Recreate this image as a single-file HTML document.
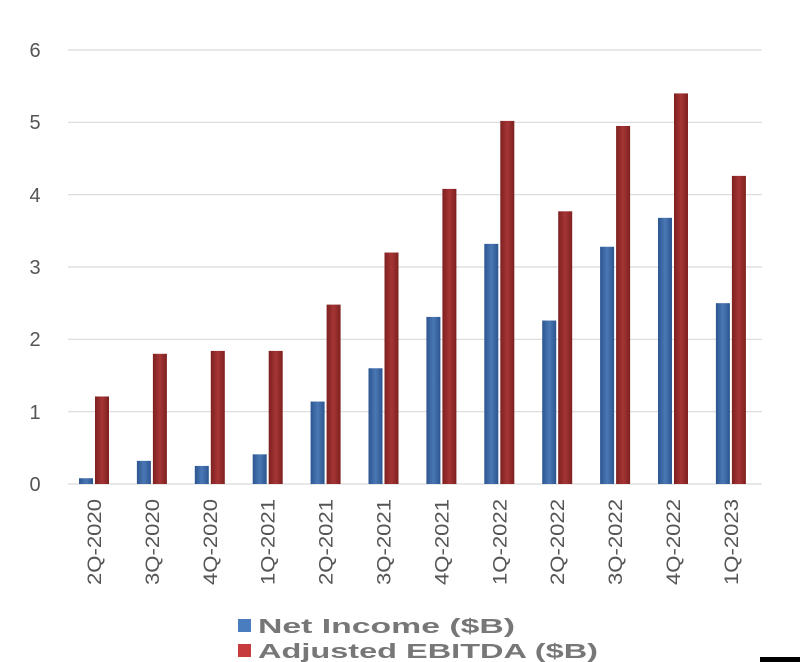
<!DOCTYPE html>
<html><head><style>
html,body{margin:0;padding:0;background:#fff;}
svg{display:block;font-family:"Liberation Sans",sans-serif;}
</style></head><body>
<svg width="800" height="662" xmlns="http://www.w3.org/2000/svg">
<defs>
<linearGradient id="b" x1="0" x2="1"><stop offset="0" stop-color="#2c5590"/><stop offset="0.5" stop-color="#4a78b5"/><stop offset="1" stop-color="#2c5590"/></linearGradient>
<linearGradient id="r" x1="0" x2="1"><stop offset="0" stop-color="#7e2020"/><stop offset="0.5" stop-color="#a53535"/><stop offset="1" stop-color="#7e2020"/></linearGradient>
</defs>
<g stroke="#d9d9d9" stroke-width="1.2">
<line x1="68" x2="762" y1="50" y2="50"/><line x1="68" x2="762" y1="122.3" y2="122.3"/>
<line x1="68" x2="762" y1="194.7" y2="194.7"/><line x1="68" x2="762" y1="267" y2="267"/>
<line x1="68" x2="762" y1="339.3" y2="339.3"/><line x1="68" x2="762" y1="411.7" y2="411.7"/>
<line x1="68" x2="762" y1="484" y2="484"/>
</g>
<g fill="#555" font-size="20" text-anchor="middle">
<text x="35" y="57">6</text><text x="35" y="129">5</text><text x="35" y="202">4</text>
<text x="35" y="274">3</text><text x="35" y="346">2</text><text x="35" y="419">1</text><text x="35" y="491">0</text>
</g>
<g id="bars"></g>
<g fill="#555" font-size="19" id="labels"></g>
<rect x="238" y="619" width="13" height="13" fill="#4a7cc0"/>
<rect x="238" y="644" width="13" height="13" fill="#c63c3c"/>
<text x="258" y="633" font-size="20" font-weight="bold" fill="#777" textLength="257" lengthAdjust="spacingAndGlyphs">Net Income ($B)</text>
<text x="258" y="658" font-size="20" font-weight="bold" fill="#777" textLength="340" lengthAdjust="spacingAndGlyphs">Adjusted EBITDA ($B)</text>
<rect x="760" y="657" width="40" height="5" fill="#000"/>
<script>
var blue=[0.08,0.32,0.25,0.41,1.14,1.6,2.31,3.32,2.26,3.28,3.68,2.5];
var red=[1.21,1.8,1.84,1.84,2.48,3.2,4.08,5.02,3.77,4.95,5.4,4.26];
var lab=["2Q-2020","3Q-2020","4Q-2020","1Q-2021","2Q-2021","3Q-2021","4Q-2021","1Q-2022","2Q-2022","3Q-2022","4Q-2022","1Q-2023"];
var ns="http://www.w3.org/2000/svg",g=document.getElementById("bars"),L=document.getElementById("labels");
for(var i=0;i<12;i++){
 var c=94+i*57.9;
 [[blue[i],c-15,"url(#b)"],[red[i],c+1,"url(#r)"]].forEach(function(a){
  var h=a[0]*72.33,r=document.createElementNS(ns,"rect");
  r.setAttribute("x",a[1]);r.setAttribute("y",484-h);r.setAttribute("width",14);r.setAttribute("height",h);r.setAttribute("fill",a[2]);g.appendChild(r);
 });
 var t=document.createElementNS(ns,"text");
 t.setAttribute("transform","translate("+(c+7)+",499) rotate(-90)");
 t.setAttribute("text-anchor","end");t.setAttribute("textLength","86");t.setAttribute("lengthAdjust","spacingAndGlyphs");
 t.textContent=lab[i];L.appendChild(t);
}
</script>
</svg>
</body></html>
